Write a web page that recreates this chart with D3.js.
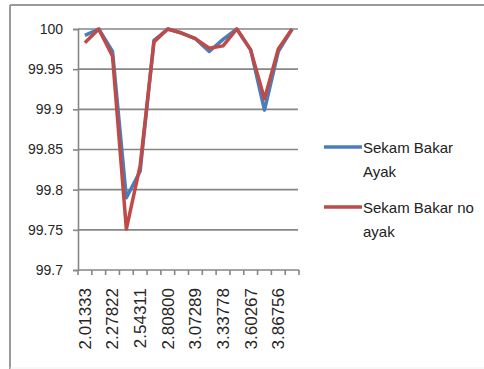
<!DOCTYPE html>
<html><head><meta charset="utf-8">
<script src="https://cdn.jsdelivr.net/npm/d3@7"></script>
<style>body{margin:0;background:#fff}svg{display:block}</style>
</head><body>
<svg id="c" width="484" height="369"></svg>
<script>
const categories = ["2.01333","2.14578","2.27822","2.41067","2.54311","2.67556","2.80800","2.94044","3.07289","3.20533","3.33778","3.47022","3.60267","3.73511","3.86756","4.00000"];
const seriesNames = ["Sekam Bakar Ayak", "Sekam Bakar no ayak"];
const ayak =   [99.992, 100, 99.972, 99.790, 99.823, 99.986, 100, 99.995, 99.988, 99.972, 99.987, 100, 99.974, 99.899, 99.972, 100];
const noAyak = [99.983, 100, 99.966, 99.751, 99.830, 99.984, 100, 99.995, 99.988, 99.976, 99.979, 100, 99.974, 99.913, 99.975, 100];
const yTicks = [99.7, 99.75, 99.8, 99.85, 99.9, 99.95, 100];
const yTickLabels = ["99.7","99.75","99.8","99.85","99.9","99.95","100"];
const colors = ["#4a7ebb", "#be4b48"];

const svg = d3.select("#c");
// outer frame
svg.append("line").attr("x1",10).attr("x2",484).attr("y1",5).attr("y2",5).attr("stroke","#9a9a9a").attr("stroke-width",2);
svg.append("line").attr("x1",10).attr("x2",10).attr("y1",5).attr("y2",369).attr("stroke","#9a9a9a").attr("stroke-width",2);
svg.append("line").attr("x1",10).attr("x2",484).attr("y1",368).attr("y2",368).attr("stroke","#f0f0f0").attr("stroke-width",1);

const x = d3.scaleBand().domain(categories).range([78, 299]).padding(0);
const y = d3.scaleLinear().domain([99.7, 100]).range([270, 29]);
const gray = "#868686";
const font = "Liberation Sans, Arial, sans-serif";

// gridlines
svg.append("g").selectAll("line").data(yTicks.filter(v => v > 99.7)).join("line")
  .attr("x1", 78).attr("x2", 298).attr("y1", d => y(d)).attr("y2", d => y(d))
  .attr("stroke", gray).attr("stroke-width", 1.6);

// y axis
const yAxis = svg.append("g").attr("transform", "translate(78,0)")
  .call(d3.axisLeft(y).tickValues(yTicks).tickSize(5).tickPadding(10)
    .tickFormat((d,i) => yTickLabels[i]));
yAxis.select(".domain").attr("stroke", gray).attr("stroke-width", 1.6);
yAxis.selectAll(".tick line").attr("stroke", gray).attr("stroke-width", 1.6);
yAxis.selectAll("text").attr("font-family", font)
  .attr("font-size", 14).attr("fill", "#262626");

// x axis line
svg.append("line").attr("x1", 78).attr("x2", 299).attr("y1", 270).attr("y2", 270)
  .attr("stroke", gray).attr("stroke-width", 1.6);
// x tick marks at category boundaries
const bounds = categories.map(c => x(c)).concat([x.range()[1]]);
svg.append("g").selectAll("line").data(bounds).join("line")
  .attr("x1", d => d).attr("x2", d => d).attr("y1", 270).attr("y2", 275)
  .attr("stroke", gray).attr("stroke-width", 1.6);

// x labels (every other category)
const xAxis = svg.append("g").attr("transform", "translate(0,270)")
  .call(d3.axisBottom(x).tickValues(categories.filter((c,i) => i % 2 === 0)).tickSize(0));
xAxis.select(".domain").remove();
xAxis.selectAll("text")
  .attr("font-family", font).attr("font-size", 17).attr("fill", "#262626")
  .attr("transform", "rotate(-90)").attr("text-anchor", "end")
  .attr("x", -18).attr("y", 0).attr("dy", "0.35em");

// lines
const line = d3.line().x((d,i) => x(categories[i]) + x.bandwidth()/2).y(d => y(d));
[ayak, noAyak].forEach((s, k) => {
  svg.append("path").datum(s).attr("d", line).attr("fill", "none")
    .attr("stroke", colors[k]).attr("stroke-width", 3.5).attr("stroke-linejoin", "round");
});

// legend
const legend = [
  {name: seriesNames[0], lines: ["Sekam Bakar", "Ayak"], y: 147},
  {name: seriesNames[1], lines: ["Sekam Bakar no", "ayak"], y: 207}
];
legend.forEach((l, k) => {
  svg.append("line").attr("x1", 324).attr("x2", 362).attr("y1", l.y).attr("y2", l.y)
    .attr("stroke", colors[k]).attr("stroke-width", 3.5);
  const t = svg.append("text").attr("font-family", font)
    .attr("font-size", 15).attr("fill", "#222");
  l.lines.forEach((s, j) => t.append("tspan").attr("x", 363).attr("y", l.y + 6 + j * 23.5).text(s));
});
</script>
</body></html>
